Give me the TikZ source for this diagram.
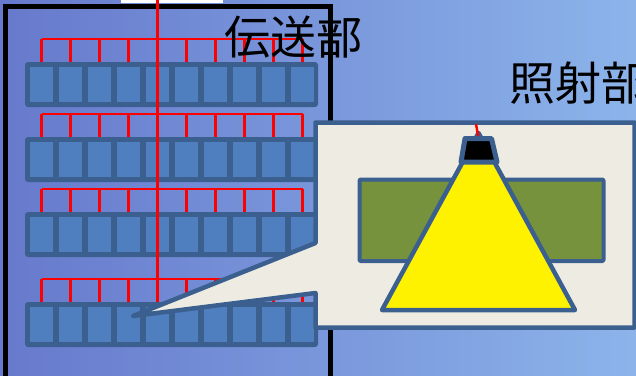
\documentclass[tikz,border=0pt]{standalone}
\usepackage{fontspec}
\newfontfamily\cjk{Noto Sans CJK JP}
\definecolor{bgL}{HTML}{6779CC}
\definecolor{bgR}{HTML}{8CB4EA}
\definecolor{edgec}{HTML}{3B5F8E}
\definecolor{cellc}{HTML}{4F7FBF}
\definecolor{cream}{HTML}{EEECE2}
\definecolor{olivec}{HTML}{76923C}
\tikzset{
  rowbox/.style={draw=none, fill=edgec, rounded corners=3pt, minimum width=293pt, minimum height=45pt, inner sep=0pt},
  cellbox/.style={draw=none, fill=cellc, minimum width=23pt, minimum height=35pt, inner sep=0pt},
  wire/.style={draw=red, line width=2.4pt},
  shapeedge/.style={draw=edgec, line width=4.5pt, line join=round},
  label/.style={font=\cjk\fontsize{46}{50}\selectfont, text=black, inner sep=0pt}
}
\begin{document}
\begin{tikzpicture}[x=1pt,y=-1pt]
\useasboundingbox (0,0) rectangle (636,375);
\shade[left color=bgL, right color=bgR] (0,0) rectangle (636,375);
\fill[white] (121,0) rectangle (223,3);
% black frame
\draw[line width=5pt, line join=miter] (5.5,380) -- (5.5,6.5) -- (330.5,6.5) -- (330.5,380);
% rows of cells
\foreach \r/\yt in {1/62,2/137,3/212,4/302}{
  \node[rowbox] (r\r) at (171.5,\yt+22.5) {};
  \foreach \i in {1,...,10}{
    \node[cellbox] (c\r-\i) at ({41.5+29*(\i-1)},\yt+22.5) {};
  }
  \coordinate (b\r) at (0,\yt-23);
}
% red wiring
\foreach \r in {1,...,4}{
  \draw[wire] (c\r-1.center |- b\r) -- (c\r-10.center |- b\r);
  \foreach \i in {1,...,10}{
    \draw[wire] (c\r-\i.center |- b\r) -- (c\r-\i.center |- r\r.north);
  }
}
\coordinate (trunktop) at (157.5,0);
\draw[wire] (trunktop) -- (trunktop |- r4.north);
% callout
\coordinate (tip) at (133,316);
\draw[shapeedge, fill=cream] (315.5,122.5) -- (634.5,122.5) -- (634.5,327.5) -- (315.5,327.5) -- (315.5,293) -- (tip) -- (315.5,243) -- cycle;
% target
\draw[shapeedge, line width=4pt, fill=olivec, rounded corners=1pt] (359.5,179.5) rectangle (603.5,261);
% light cone
\draw[shapeedge, fill=yellow] (478.5,133) -- (575,310) -- (382,310) -- cycle;
% lamp feed
\coordinate (feed) at (476,124);
\coordinate (lamptop) at (478.5,138);
\draw[wire] (feed) -- (lamptop);
% lamp
\draw[shapeedge, line width=5pt, fill=black] (465,138.5) -- (491.5,138.5) -- (497,162) -- (461,162) -- cycle;
% labels
\node[label] (tx1) at (293.5,37) {伝送部};
\node[label, anchor=west] (tx2) at (509,83) {照射部};
\end{tikzpicture}
\end{document}
